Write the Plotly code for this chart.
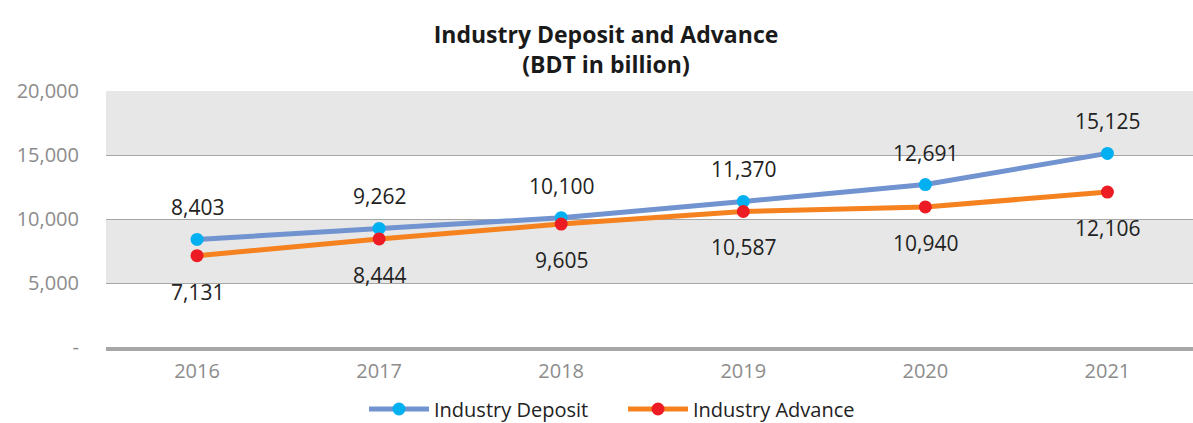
import plotly.graph_objects as go

years = ["2016", "2017", "2018", "2019", "2020", "2021"]
deposit = [8403, 9262, 10100, 11370, 12691, 15125]
advance = [7131, 8444, 9605, 10587, 10940, 12106]
ytick_vals = [0, 5000, 10000, 15000, 20000]
ytick_text = ["-", "5,000", "10,000", "15,000", "20,000"]

FONT = "Open Sans, Liberation Sans, sans-serif"

fig = go.Figure()
fig.add_trace(go.Scatter(
    x=years, y=deposit, name="Industry Deposit", mode="lines+markers",
    line=dict(color="#7193d0", width=5),
    marker=dict(color="#00b0f0", size=13),
))
fig.add_trace(go.Scatter(
    x=years, y=advance, name="Industry Advance", mode="lines+markers",
    line=dict(color="#f5821f", width=5),
    marker=dict(color="#ed1c24", size=13),
))

annotations = []
for i, v in enumerate(deposit):
    annotations.append(dict(x=i, y=v, xref="x", yref="y", text=f"{v:,}", showarrow=False,
                            yshift=32, font=dict(size=21, color="#222222", family=FONT)))
for i, v in enumerate(advance):
    annotations.append(dict(x=i, y=v, xref="x", yref="y", text=f"{v:,}", showarrow=False,
                            yshift=-36, font=dict(size=21, color="#222222", family=FONT)))

shapes = [
    dict(type="rect", xref="paper", yref="y", x0=0, x1=1, y0=5000, y1=10000,
         fillcolor="#e7e7e7", line=dict(width=0), layer="below"),
    dict(type="rect", xref="paper", yref="y", x0=0, x1=1, y0=15000, y1=20000,
         fillcolor="#e7e7e7", line=dict(width=0), layer="below"),
]

fig.update_layout(
    width=1193, height=423,
    margin=dict(l=106, r=0, t=91, b=76, autoexpand=False),
    paper_bgcolor="white", plot_bgcolor="white",
    font=dict(family=FONT),
    title=dict(text="<b>Industry Deposit and Advance<br>(BDT in billion)</b>",
               x=606/1193, xanchor="center", xref="container",
               y=1 - 43/423, yanchor="middle", yref="container",
               font=dict(size=23, color="#1a1a1a", family=FONT)),
    xaxis=dict(type="category", range=[-0.5, 5.47], showgrid=False,
               showline=True, linecolor="#a6a6a6", linewidth=4,
               ticks="", tickfont=dict(size=20, color="#8c8c8c"), ticklabelstandoff=3),
    yaxis=dict(range=[0, 20000], tickvals=ytick_vals, ticktext=ytick_text,
               showgrid=True, gridcolor="#a6a6a6", gridwidth=1, zeroline=False,
               tickfont=dict(size=20, color="#8c8c8c"), ticklabelstandoff=26),
    legend=dict(orientation="h", xref="container", yref="container",
                x=364/1193, xanchor="left", y=1 - 409/423, yanchor="middle",
                font=dict(size=20, color="#222222"), itemwidth=60,
                entrywidth=184, entrywidthmode="pixels"),
    showlegend=True,
    annotations=annotations,
    shapes=shapes,
)

fig.write_html("out.html", config={"displayModeBar": False},
               post_script="document.body.style.margin='0';document.body.style.padding='0';")
